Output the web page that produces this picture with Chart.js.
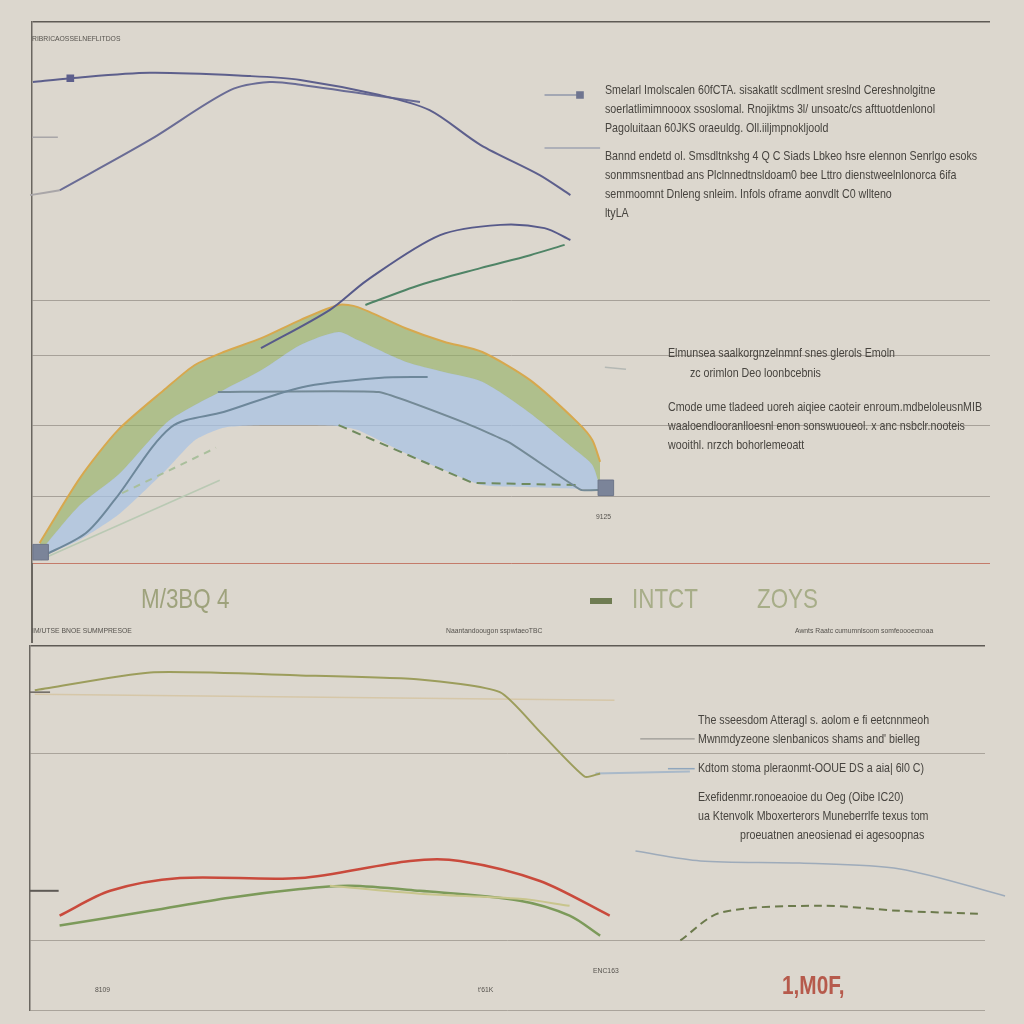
<!DOCTYPE html>
<html>
<head>
<meta charset="utf-8">
<script src="https://cdn.jsdelivr.net/npm/chart.js@4.4.0/dist/chart.umd.min.js"></script>
<style>
  body { margin: 0; background: #dcd7ce; }
  #wrap { position: relative; width: 1024px; height: 1024px; overflow: hidden; background: #dcd7ce; }
  canvas { position: absolute; left: 0; }
  .t { position: absolute; white-space: nowrap; color: #47443f; transform-origin: 0 0;
       font-family: "Liberation Sans", Arial, sans-serif; }
  .note { font-size: 13px; line-height: 19px; transform: scaleX(0.82); }
  .tiny { font-size: 8px; color: #55524d; transform: scaleX(0.85); }
  .big { font-size: 28px; color: #a7ad88; transform: scaleX(0.8); }
</style>
</head>
<body>
<div id="wrap">
  <canvas id="topChart" width="1024" height="640" style="top:0"></canvas>
  <canvas id="bottomChart" width="1024" height="384" style="top:640px"></canvas>
  <div style="position:absolute;left:31px;top:563px;width:1.5px;height:80px;background:#6a6660"></div>

  <div class="t tiny" style="left:32px;top:34px">RIBRICAOSSELNEFLITDOS</div>
  <div class="t note" style="left:605px;top:80px">Smelarl Imolscalen 60fCTA. sisakatlt scdlment sreslnd Cereshnolgitne<br>soerlatlimimnooox ssoslomal. Rnojiktms 3l/ unsoatc/cs afttuotdenlonol<br>Pagoluitaan 60JKS oraeuldg. Oll.iiljmpnokljoold</div>
  <div class="t note" style="left:605px;top:146px">Bannd endetd ol. Smsdltnkshg 4 Q C Siads Lbkeo hsre elennon Senrlgo esoks<br>sonmmsnentbad ans Plclnnedtnsldoam0 bee Lttro dienstweelnlonorca 6ifa<br>semmoomnt Dnleng snleim. Infols oframe aonvdlt C0 wllteno<br>ltyLA</div>
  <div class="t note" style="left:668px;top:343px">Elmunsea saalkorgnzelnmnf snes glerols Emoln</div>
  <div class="t note" style="left:690px;top:363px">zc orimlon Deo loonbcebnis</div>
  <div class="t note" style="left:668px;top:397px">Cmode ume tladeed uoreh aiqiee caoteir enroum.mdbeloleusnMIB<br>waaloendlooranlloesnl enon sonswuoueol. x anc nsbclr.nooteis<br>wooithl. nrzch bohorlemeoatt</div>
  <div class="t tiny" style="left:596px;top:512px">9125</div>

  <div class="t big" style="left:141px;top:583px;color:#9ea27c">M/3BQ 4</div>
  <div style="position:absolute;left:590px;top:598px;width:22px;height:6px;background:#6f7c52"></div>
  <div class="t big" style="left:632px;top:583px">INTCT</div>
  <div class="t big" style="left:757px;top:583px">ZOYS</div>
  <div class="t tiny" style="left:32px;top:626px">IM/UTSE BNOE SUMMPRESOE</div>
  <div class="t tiny" style="left:446px;top:626px">Naantandoougon sspwtaeoTBC</div>
  <div class="t tiny" style="left:795px;top:626px">Awnts Raatc cumumnlsoom somfeoooecnoaa</div>

  <div class="t note" style="left:698px;top:710px">The sseesdom Atteragl s. aolom e fi eetcnnmeoh<br>Mwnmdyzeone slenbanicos shams and' bielleg</div>
  <div class="t note" style="left:698px;top:758px">Kdtom stoma pleraonmt-OOUE DS a aia| 6l0 C)</div>
  <div class="t note" style="left:698px;top:787px">Exefidenmr.ronoeaoioe du Oeg (Oibe IC20)</div>
  <div class="t note" style="left:698px;top:806px">ua Ktenvolk Mboxerterors Muneberrlfe texus tom</div>
  <div class="t note" style="left:740px;top:825px">proeuatnen aneosienad ei agesoopnas</div>

  <div class="t tiny" style="left:95px;top:985px">8109</div>
  <div class="t tiny" style="left:478px;top:985px">t'61K</div>
  <div class="t tiny" style="left:593px;top:966px">ENC163</div>
  <div class="t" style="left:782px;top:970px;font-size:26px;font-weight:bold;color:#b65a4c;transform:scaleX(0.8)">1,M0F,</div>
</div>

<script>
// ---- top panel data (x: 0-100 across the panel, y: 0-100 up from the baseline)
const areaX      = [0.8, 5, 9, 14, 17, 20, 24, 28, 32, 34, 39, 43, 47, 52, 57, 58.5, 59.3];
const greenBand  = [3.7, 15.7, 24.6, 32.3, 36.6, 39.0, 41.6, 44.9, 47.7, 47.3, 43.4, 40.9, 39.0, 33.8, 25.9, 22.7, 18.7];
const blueTop    = [2.0, 10.7, 16.3, 25.9, 29.2, 32.0, 35.7, 40.3, 42.7, 41.2, 37.2, 35.3, 33.5, 27.7, 20.5, 18.1, 13.9];
const blueBottom = [1.1, 4.3, 8.9, 17.2, 22.7, 25.0, 25.5, 25.5, 25.3, 24.6, 20.3, 17.2, 14.4, 14.0, 13.7, 13.5, 13.5];

const upperX  = [0.1, 4.0, 12.3, 22.8, 28, 36.3, 41.5, 46.8, 53, 56.2];
const upperY  = [88.9, 89.6, 90.6, 90.0, 89.3, 86.5, 83.7, 77.3, 71.7, 68.0];
const upper2X = [2.9, 12.3, 20.7, 24.8, 28, 40.5];
const upper2Y = [68.9, 78.2, 87.4, 88.9, 88.4, 85.2];

const riseX  = [23.9, 31.1, 35, 42.6, 48.9, 53.5, 56.2];
const riseY  = [39.7, 46.8, 52.3, 60.6, 62.5, 61.9, 59.7];
const greenX = [34.8, 40.5, 46.8, 52, 55.6];
const greenY = [47.7, 51.4, 54.5, 56.9, 58.8];

const slateX  = [0.9, 5.6, 8.6, 14.5, 20, 28.2, 36.2, 41.3];
const slateY  = [1.1, 5.5, 11.6, 25.1, 27.9, 32.5, 34.2, 34.4];
const plateauX = [19.4, 36.2, 45.2, 49.9, 57.3, 59.3];
const plateauY = [31.6, 31.6, 25.9, 22.2, 13.5, 13.5];
const dashX = [32, 46, 57.3];
const dashY = [25.5, 14.8, 14.4];
const faintDashX = [9.4, 19.2];
const faintDashY = [12.9, 21.3];
const faintX = [0.9, 19.6];
const faintY = [0.6, 15.3];
const markerX = [0.9, 59.9];
const markerY = [2.0, 13.9];
// short leader strokes next to the notes
const leadA_X = [53.5, 57.2], leadA_Y = [86.5, 86.5];
const leadB_X = [53.5, 59.3], leadB_Y = [76.7, 76.7];
const leadC_X = [0, 2.7],     leadC_Y = [78.7, 78.7];
const leadD_X = [59.8, 62.0], leadD_Y = [36.2, 35.8];
const topGrid = [0, 12.2, 25.5, 38.4, 48.6, 100];

// ---- bottom panel data
const oliveX = [0.5, 12.6, 28.3, 40.8, 49.2, 53.4, 58.1, 59.7];
const oliveY = [87.7, 92.6, 91.8, 90.7, 87.2, 76.3, 64.0, 64.9];
const paleBlueX = [59.2, 69.1];
const paleBlueY = [64.9, 65.4];
const tanX = [0.5, 61.2];
const tanY = [86.6, 85.0];
const redX = [3.1, 8.4, 15.7, 28.3, 39.8, 45, 53.4, 60.7];
const redY = [25.9, 32.7, 36.2, 36.2, 40.9, 40.9, 35.4, 25.9];
const greenLowX = [3.1, 12.6, 20.9, 28.3, 33.5, 40.8, 51.3, 56.5, 59.7];
const greenLowY = [23.2, 27.2, 30.8, 33.2, 34.1, 32.7, 30.0, 25.9, 20.4];
const paleOliveX = [31.4, 40.8, 51.3, 56.5];
const paleOliveY = [34.1, 31.9, 30.5, 28.6];
const dashedOliveX = [68.1, 72.3, 82.7, 91.1, 99.5];
const dashedOliveY = [19.1, 26.7, 28.6, 27.2, 26.4];
const arrowX = [63.4, 70.2, 80.6, 91.1, 102.1];
const arrowY = [43.6, 40.9, 40.3, 38.7, 31.3];
const tickA_X = [0, 2.1], tickA_Y = [87.2, 87.2];
const tickB_X = [0, 3.0], tickB_Y = [32.7, 32.7];
const leadE_X = [63.9, 69.6], leadE_Y = [74.4, 74.4];
const leadF_X = [66.8, 69.6], leadF_Y = [66.2, 66.2];
const bottomGrid = [0, 19.1, 70.3, 100];

const pts = (xs, ys) => xs.map((x, i) => ({ x, y: ys[i] }));

const line = (xs, ys, color, extra = {}) => Object.assign({
  data: pts(xs, ys),
  borderColor: color,
  borderWidth: 2,
  pointRadius: 0,
  tension: 0.3,
  fill: false,
  clip: false
}, extra);

const baseOptions = (padding, grid, gridColor) => ({
  responsive: false,
  animation: false,
  devicePixelRatio: 1,
  layout: { padding },
  plugins: { legend: { display: false }, tooltip: { enabled: false } },
  scales: {
    x: { type: "linear", min: 0, max: 100, display: false },
    y: {
      min: 0, max: 100,
      ticks: { display: false },
      afterBuildTicks: axis => { axis.ticks = grid.map(v => ({ value: v })); },
      grid: { drawTicks: false, color: gridColor, lineWidth: c => (c.tick && c.tick.value === 100 ? 1.5 : 1) },
      border: { display: true, color: "#6a6660", width: 1.5 }
    }
  }
});

new Chart(document.getElementById("topChart"), {
  type: "line",
  data: {
    datasets: [
      { data: pts(markerX, markerY), showLine: false, pointStyle: "rect", pointRadius: 11,
        pointBackgroundColor: "#7b8499", pointBorderColor: "#6d7589", clip: false },
      line(upperX, upperY, "#5d5f8c", { pointRadius: [0, 4, 0, 0, 0, 0, 0, 0, 0, 0], pointStyle: "rect", pointBackgroundColor: "#5d5f8c" }),
      line(upper2X, upper2Y, "#6a6c95"),
      line([-0.2, 2.9], [68.0, 68.9], "#a9a6a8"),
      line(leadA_X, leadA_Y, "#a3a7b3", { tension: 0, pointRadius: [0, 4], pointStyle: "rect", pointBackgroundColor: "#6f7590", pointBorderColor: "#6f7590" }),
      line(leadB_X, leadB_Y, "#aeb0b8", { tension: 0 }),
      line(leadC_X, leadC_Y, "#a8a6a8", { tension: 0, borderWidth: 1.5 }),
      line(leadD_X, leadD_Y, "#b4b8b4", { tension: 0, borderWidth: 1.5 }),
      line(riseX, riseY, "#575a8a"),
      line(greenX, greenY, "#4f8466"),
      line(slateX, slateY, "#6d879a"),
      line(plateauX, plateauY, "#748a96", { tension: 0.1 }),
      line(dashX, dashY, "#6f8a5e", { borderDash: [9, 6], tension: 0 }),
      line(faintDashX, faintDashY, "#a9bf9c", { borderDash: [7, 6], tension: 0 }),
      line(faintX, faintY, "#b9c9b3", { borderWidth: 1.5, tension: 0 }),
      line(areaX, greenBand, "#d7a84e", { fill: "+1", backgroundColor: "rgba(147,176,100,0.62)", tension: 0.25 }),
      line(areaX, blueTop, "rgba(160,188,225,0.3)", { fill: "+1", backgroundColor: "rgba(168,194,228,0.72)", tension: 0.25, borderWidth: 1 }),
      line(areaX, blueBottom, "rgba(0,0,0,0)", { tension: 0.2, borderWidth: 0 })
    ]
  },
  options: baseOptions({ left: 32, right: 34, top: 22, bottom: 77 }, topGrid,
    c => (c.tick && c.tick.value === 0 ? "#c47b6a" : c.tick && c.tick.value === 100 ? "#5e5a55" : "#a7a199"))
});

new Chart(document.getElementById("bottomChart"), {
  type: "line",
  data: {
    datasets: [
      line(oliveX, oliveY, "#9c9d5c", { tension: 0.2 }),
      line(paleBlueX, paleBlueY, "#a9b9c9", { tension: 0 }),
      line(tanX, tanY, "#d6c7a8", { borderWidth: 1.5, tension: 0 }),
      line(redX, redY, "#c94a3c", { borderWidth: 2.5 }),
      line(paleOliveX, paleOliveY, "#c8c58c"),
      line(greenLowX, greenLowY, "#7c9a5a", { borderWidth: 2.5 }),
      line(dashedOliveX, dashedOliveY, "#6c7a4c", { borderDash: [8, 5] }),
      line(arrowX, arrowY, "#9eabba", { borderWidth: 1.5, pointRadius: [0, 0, 0, 0, 4], pointStyle: "triangle", pointRotation: 120, pointBackgroundColor: "#8796a8", pointBorderColor: "#8796a8" }),
      line(tickA_X, tickA_Y, "#6a6660", { tension: 0, borderWidth: 1.5 }),
      line(tickB_X, tickB_Y, "#5e5a55", { tension: 0, borderWidth: 2 }),
      line(leadE_X, leadE_Y, "#9a9893", { tension: 0, borderWidth: 1.2 }),
      line(leadF_X, leadF_Y, "#8fa6bd", { tension: 0, borderWidth: 1.5 })
    ]
  },
  options: baseOptions({ left: 30, right: 39, top: 3, bottom: 14 }, bottomGrid,
    c => (c.tick && c.tick.value === 100 ? "#5e5a55" : "#aaa49b"))
});
</script>
</body>
</html>
